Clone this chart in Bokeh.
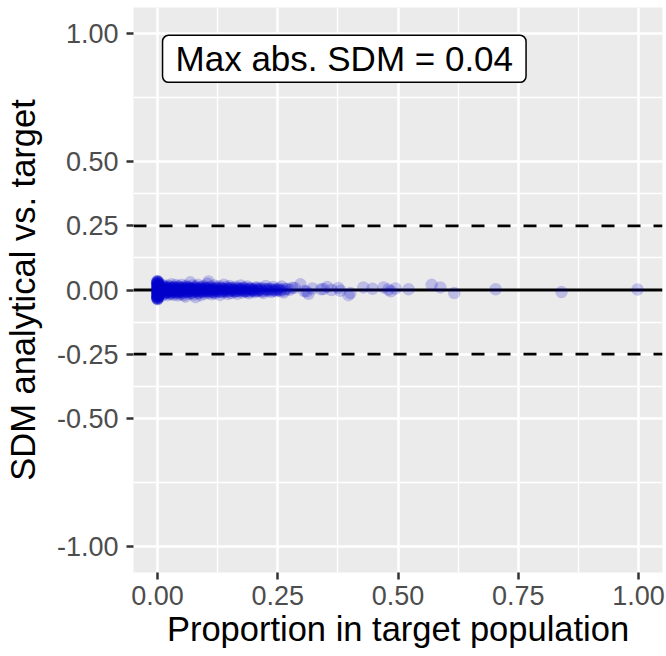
from bokeh.plotting import figure
from bokeh.models import Range1d, FixedTicker, Span, Label, ColumnDataSource
from bokeh.embed import file_html
from bokeh.resources import INLINE

# Proportion of each stratum in the target population (x) and the
# standardized mean difference of the analytical sample vs. target (y)
proportion = [
    0.0, 0.0, 0.0, 0.0, 0.0, 0.0, 0.0, 0.0, 0.0, 0.0,
    0.0, 0.0, 0.0, 0.0, 0.0, 0.0, 0.0, 0.0, 0.0, 0.0,
    0.0, 0.0, 0.0, 0.0, 0.0, 0.0, 0.0, 0.0, 0.0, 0.0,
    0.0, 0.0, 0.0, 0.0, 0.0, 0.0, 0.0, 0.0, 0.0, 0.0,
    0.0, 0.0, 0.0, 0.0, 0.0, 0.0, 0.0, 0.0, 0.0, 0.0,
    0.001, 0.001, 0.002, 0.002, 0.003, 0.004, 0.006, 0.007, 0.009, 0.010,
    0.011, 0.012, 0.014, 0.015, 0.017, 0.018, 0.020, 0.021, 0.023, 0.024,
    0.026, 0.027, 0.029, 0.030, 0.032, 0.033, 0.035, 0.036, 0.038, 0.039,
    0.041, 0.042, 0.044, 0.045, 0.047, 0.048, 0.050, 0.052, 0.054, 0.055,
    0.057, 0.058, 0.060, 0.062, 0.064, 0.066, 0.068, 0.069, 0.071, 0.073,
    0.075, 0.077, 0.079, 0.080, 0.082, 0.084, 0.086, 0.088, 0.090, 0.092,
    0.094, 0.096, 0.098, 0.100, 0.102, 0.104, 0.106, 0.108, 0.110, 0.112,
    0.114, 0.116, 0.118, 0.120, 0.123, 0.125, 0.128, 0.130, 0.133, 0.135,
    0.138, 0.140, 0.143, 0.146, 0.148, 0.150, 0.153, 0.156, 0.160, 0.163,
    0.166, 0.170, 0.173, 0.176, 0.180, 0.183, 0.187, 0.190, 0.194, 0.198,
    0.202, 0.206, 0.210, 0.215, 0.220, 0.225, 0.230, 0.236, 0.241, 0.247,
    0.252, 0.258, 0.262, 0.270, 0.280, 0.297, 0.305, 0.314, 0.322, 0.340,
    0.353, 0.362, 0.376, 0.380, 0.397, 0.401, 0.428, 0.447, 0.470, 0.480,
    0.485, 0.495, 0.522, 0.570, 0.588, 0.617, 0.703, 0.840, 0.998,
    0.001, 0.002, 0.003, 0.004, 0.005, 0.006, 0.007, 0.008, 0.009, 0.010,
    0.011, 0.012, 0.013, 0.014, 0.015, 0.016, 0.017, 0.018, 0.019, 0.020,
    0.022, 0.024, 0.025, 0.027, 0.028, 0.030, 0.031, 0.033, 0.034, 0.036,
    0.037, 0.039, 0.040, 0.042, 0.043, 0.045, 0.046, 0.048, 0.049, 0.051,
    0.053, 0.055, 0.056, 0.058, 0.060, 0.061, 0.063, 0.065, 0.067, 0.069,
    0.070, 0.072, 0.074, 0.076, 0.078, 0.080, 0.082, 0.084, 0.086, 0.088,
    0.090, 0.092, 0.095, 0.097, 0.099, 0.101, 0.104, 0.107, 0.109, 0.112,
    0.115, 0.117, 0.120, 0.122, 0.126, 0.129, 0.132, 0.136, 0.139, 0.142,
    0.145, 0.149, 0.152, 0.155, 0.158, 0.162, 0.165, 0.168, 0.172, 0.175,
    0.178, 0.182, 0.185, 0.189, 0.192, 0.196, 0.200, 0.204, 0.208, 0.212,
    0.217, 0.222, 0.228, 0.233, 0.239, 0.244, 0.250, 0.255, 0.265, 0.275,
    0.002, 0.004, 0.006, 0.008, 0.010, 0.013, 0.016, 0.019, 0.022, 0.025,
    0.028, 0.031, 0.034, 0.037, 0.040, 0.043, 0.046, 0.049, 0.052, 0.055,
    0.058, 0.061, 0.064, 0.067, 0.070, 0.073, 0.076, 0.079, 0.082, 0.085,
    0.088, 0.091, 0.094, 0.097, 0.100, 0.103, 0.106, 0.109, 0.112, 0.115,
    0.118, 0.121, 0.124, 0.127, 0.131, 0.134, 0.137, 0.141, 0.144, 0.147,
    0.151, 0.154, 0.157, 0.161, 0.164, 0.167, 0.171, 0.174, 0.177, 0.181,
    0.184, 0.188, 0.191, 0.195, 0.199, 0.203, 0.207, 0.211, 0.216, 0.221,
    0.226, 0.231, 0.237, 0.243, 0.249, 0.256, 0.263, 0.285, 0.310, 0.345,
]
sdm = [
    0.035, 0.032, 0.028, 0.025, 0.022, 0.018, 0.015, 0.012, 0.008, 0.005,
    0.002, 0.000, -0.003, -0.006, -0.010, -0.013, -0.016, -0.020, -0.024, -0.027,
    -0.030, -0.033, -0.036, 0.030, -0.030, 0.020, -0.020, 0.010, -0.010, 0.000,
    0.034, 0.031, 0.027, 0.023, 0.019, 0.014, 0.009, 0.004, -0.001, -0.005,
    -0.009, -0.014, -0.018, -0.022, -0.026, -0.029, -0.032, -0.035, 0.029, -0.031,
    0.025, -0.025, 0.012, -0.012, 0.015, -0.018, 0.008, -0.010, 0.020, -0.022,
    0.004, -0.004, 0.016, -0.015, 0.010, -0.012, 0.018, -0.020, 0.005, -0.006,
    0.014, -0.016, 0.022, -0.009, 0.007, -0.019, 0.012, -0.003, 0.019, -0.014,
    0.002, -0.021, 0.015, -0.008, 0.009, -0.017, 0.020, -0.011, 0.006, -0.020,
    0.013, -0.026, 0.017, -0.007, 0.010, -0.015, 0.030, 0.004, -0.012, 0.018,
    -0.018, 0.008, -0.028, 0.014, -0.005, 0.020, -0.013, 0.006, -0.020, 0.012,
    -0.008, 0.016, -0.015, 0.009, -0.004, 0.024, 0.033, -0.011, 0.013, -0.017,
    0.005, -0.009, 0.018, -0.014, 0.010, -0.006, 0.015, -0.019, 0.007, -0.010,
    0.020, -0.004, 0.012, -0.016, 0.004, 0.016, -0.012, 0.008, -0.007, 0.013,
    -0.015, 0.005, 0.018, -0.010, 0.010, -0.005, 0.014, -0.013, 0.006, 0.002,
    -0.009, 0.011, -0.004, 0.008, -0.012, 0.016, 0.003, -0.008, 0.012, -0.005,
    0.006, 0.014, -0.010, 0.004, 0.009, 0.022, -0.004, -0.015, 0.006, 0.003,
    0.012, 0.000, 0.008, -0.003, -0.020, -0.012, 0.010, 0.005, 0.010, 0.002,
    -0.005, 0.006, 0.003, 0.020, 0.010, -0.012, 0.003, -0.008, 0.002,
    -0.008, 0.010, -0.014, 0.006, -0.003, 0.013, -0.011, 0.002, 0.009, -0.006,
    0.011, -0.009, 0.004, -0.013, 0.008, -0.002, 0.012, -0.010, 0.005, -0.007,
    0.010, -0.012, 0.003, -0.005, 0.009, -0.011, 0.006, -0.004, 0.012, -0.008,
    0.001, -0.010, 0.008, -0.003, 0.011, -0.009, 0.004, -0.006, 0.010, -0.002,
    0.007, -0.011, 0.002, -0.007, 0.009, -0.004, 0.011, -0.008, 0.005, -0.001,
    0.008, -0.009, 0.003, -0.006, 0.010, -0.003, 0.006, -0.010, 0.002, -0.005,
    0.009, -0.007, 0.004, -0.002, 0.008, -0.008, 0.005, -0.004, 0.010, -0.006,
    0.003, -0.009, 0.007, -0.001, 0.006, -0.007, 0.009, -0.003, 0.004, -0.008,
    0.006, -0.005, 0.008, -0.002, 0.003, -0.006, 0.007, -0.004, 0.005, -0.003,
    0.008, -0.005, 0.002, -0.007, 0.006, 0.001, -0.004, 0.007, -0.002, 0.004,
    -0.006, 0.005, -0.001, 0.006, -0.003, 0.003, 0.000, -0.004, 0.005, 0.001,
    0.003, -0.005, 0.007, -0.002, 0.004, -0.006, 0.001, -0.003, 0.005, -0.004,
    0.002, -0.001, 0.006, -0.005, 0.003, -0.002, 0.004, -0.006, 0.001, 0.005,
    -0.003, 0.002, -0.004, 0.006, -0.001, 0.003, -0.005, 0.004, -0.002, 0.001,
    0.005, -0.004, 0.002, -0.003, 0.006, -0.001, 0.004, -0.005, 0.003, -0.002,
    0.001, -0.004, 0.005, -0.003, 0.002, -0.006, 0.004, -0.001, 0.003, -0.005,
    0.006, -0.002, 0.001, -0.004, 0.005, -0.003, 0.002, -0.001, 0.004, -0.005,
    0.003, -0.002, 0.006, -0.004, 0.001, -0.003, 0.005, -0.001, 0.002, -0.004,
    0.004, -0.003, 0.002, -0.001, 0.003, 0.001, -0.002, 0.008, -0.006, 0.004,
]

# Axis ticks and labels
x_ticks = [0.0, 0.25, 0.5, 0.75, 1.0]
x_tick_labels = ["0.00", "0.25", "0.50", "0.75", "1.00"]
x_minor = [-0.125, 0.125, 0.375, 0.625, 0.875]
y_ticks = [-1.0, -0.5, -0.25, 0.0, 0.25, 0.5, 1.0]
y_tick_labels = ["-1.00", "-0.50", "-0.25", "0.00", "0.25", "0.50", "1.00"]
y_minor = [-0.75, -0.375, -0.125, 0.125, 0.375, 0.75]

# Reference lines: zero and the +/- 0.25 balance thresholds
zero_line = 0.0
thresholds = [-0.25, 0.25]

max_abs_sdm = 0.04
annotation_text = f"Max abs. SDM = {max_abs_sdm:.2f}"

FONT = "Liberation Sans"
BG = "#EBEBEB"
POINT_COLOR = "#0000CD"

p = figure(
    width=666, height=656,
    x_range=Range1d(-0.05, 1.05), y_range=Range1d(-1.1, 1.1),
    output_backend="svg", toolbar_location=None, title=None,
    min_border_left=133, min_border_right=4,
    min_border_top=7, min_border_bottom=84,
)
p.background_fill_color = BG
p.border_fill_color = "white"
p.outline_line_color = None

p.xaxis.ticker = FixedTicker(ticks=x_ticks, minor_ticks=x_minor)
p.yaxis.ticker = FixedTicker(ticks=y_ticks, minor_ticks=y_minor)
p.xaxis.major_label_overrides = dict(zip(x_ticks, x_tick_labels))
p.yaxis.major_label_overrides = dict(zip(y_ticks, y_tick_labels))

for ax in (p.xaxis, p.yaxis):
    ax.axis_line_color = None
    ax.minor_tick_line_color = None
    ax.major_tick_line_color = "#333333"
    ax.major_tick_line_width = 2.5
    ax.major_tick_in = 0
    ax.major_tick_out = 7
    ax.major_label_text_color = "#4D4D4D"
    ax.major_label_text_font = FONT
    ax.major_label_text_font_size = "27px"
    ax.axis_label_text_font = FONT
    ax.axis_label_text_font_size = "34.5px"
    ax.axis_label_text_font_style = "normal"
    ax.axis_label_text_color = "black"

p.xaxis.axis_label = "Proportion in target population"
p.yaxis.axis_label = "SDM analytical vs. target"
p.xaxis.major_label_standoff = 6
p.xaxis.axis_label_standoff = 2
p.yaxis.major_label_standoff = 8
p.yaxis.axis_label_standoff = 12

for g in (p.xgrid, p.ygrid):
    g.grid_line_color = "white"
    g.grid_line_width = 2.6
    g.minor_grid_line_color = "white"
    g.minor_grid_line_width = 1.3

p.add_layout(Span(location=zero_line, dimension="width", line_color="black",
                  line_width=2.8, level="underlay"))
for t in thresholds:
    p.add_layout(Span(location=t, dimension="width", line_color="black",
                      line_width=2.8, line_dash="13 13", level="underlay"))

src = ColumnDataSource(dict(x=proportion, y=sdm))
p.scatter("x", "y", source=src, size=12.5, fill_color=POINT_COLOR,
          fill_alpha=0.2, line_color=None)

p.add_layout(Label(
    x=0.0104, y=0.9, text=annotation_text,
    text_font=FONT, text_font_size="35px", text_color="black",
    text_align="left", text_baseline="middle",
    background_fill_color="white", border_line_color="black",
    border_line_width=1.5, border_radius=6,
    padding=dict(left=13, right=13, top=4, bottom=4),
))

open("out.html", "w").write(file_html(p, INLINE))
